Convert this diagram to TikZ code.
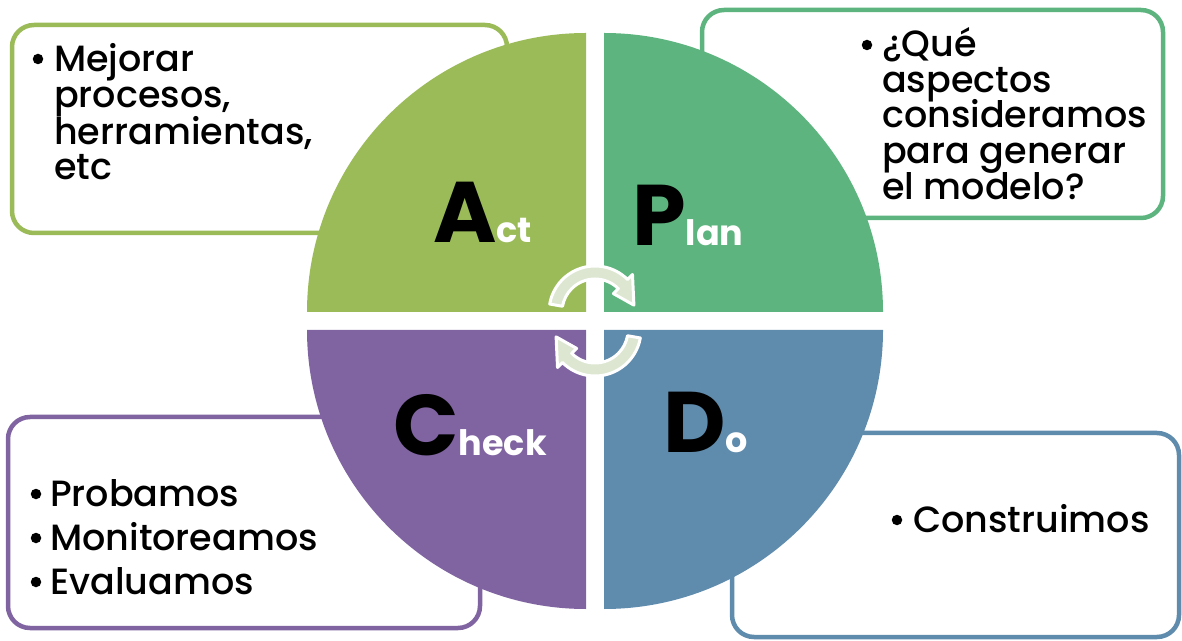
\documentclass[tikz,border=0pt]{standalone}
\usepackage{fontspec}
\setmainfont{Poppins}[UprightFont=* Medium, BoldFont=* Bold]
\definecolor{actc}{HTML}{9BBB59}
\definecolor{planc}{HTML}{5DB47E}
\definecolor{doc}{HTML}{5F8BAC}
\definecolor{checkc}{HTML}{8064A2}
\definecolor{arrowc}{HTML}{DCE6D0}
\tikzset{
  infobox/.style={fill=white, line width=4.5pt, rounded corners=22pt},
  itemtxt/.style={anchor=base west, inner sep=0pt, font=\fontsize{36.5}{36.5}\selectfont},
  bul/.style={circle, fill=black, inner sep=0pt, minimum size=10.5pt},
  bigletter/.style={anchor=base west, inner sep=0pt},
  cyclearrow/.style={fill=arrowc, draw=white, line width=3pt, line join=round},
}
\newcommand{\bigL}[2]{{\fontsize{86}{86}\selectfont\bfseries #1}{\fontsize{35}{35}\selectfont\bfseries\color{white}#2}}
\begin{document}
\begin{tikzpicture}[x=1pt,y=1pt]
\useasboundingbox (0,0) rectangle (1182,640);
% boxes
\draw[infobox, draw=actc] (12,407) rectangle (507,615);
\draw[infobox, draw=planc] (702,422) rectangle (1163,630);
\draw[infobox, draw=checkc] (8,12) rectangle (480,223);
\draw[infobox, draw=doc] (732,3) rectangle (1179,207);
% quadrants
\fill[actc] (586,328) -- ++(-279,0) arc[start angle=180, end angle=90, radius=279] -- cycle;
\fill[planc] (604,328) -- ++(0,279) arc[start angle=90, end angle=0, radius=279] -- cycle;
\fill[doc] (604,310) -- ++(279,0) arc[start angle=0, end angle=-90, radius=279] -- cycle;
\fill[checkc] (586,310) -- ++(0,-279) arc[start angle=270, end angle=180, radius=279] -- cycle;
% cycle arrows
\begin{scope}[shift={(595,328)}]
\path[cyclearrow] (170:46) arc[start angle=170, end angle=45, radius=46] -- (45:53) -- (10:39.5) -- (45:26) -- (45:33) arc[start angle=45, end angle=170, radius=33] -- cycle;
\end{scope}
\begin{scope}[shift={(595,310)}]
\path[cyclearrow] (-10:46) arc[start angle=-10, end angle=-135, radius=46] -- (-135:53) -- (-170:39.5) -- (-135:26) -- (-135:33) arc[start angle=-135, end angle=-10, radius=33] -- cycle;
\end{scope}
% big letters
\node[bigletter] (act) at (433,397) {\bigL{A}{ct}};
\node[bigletter] (plan) at (632,394) {\bigL{P}{lan}};
\node[bigletter] (check) at (393,185) {\bigL{C}{heck}};
\node[bigletter] (do) at (663,187) {\bigL{D}{o}};
% Act text
\node[bul] (ab) at (38,581) {};
\node[itemtxt] (a1) at (54,568) {Mejorar};
\node[itemtxt] (a2) at (54,532) {procesos,};
\node[itemtxt] (a3) at (54,495) {herramientas,};
\node[itemtxt] (a4) at (54,460) {etc};
% Plan text
\node[bul] (pb) at (867,595) {};
\node[itemtxt] (p1) at (882,583) {¿Qué};
\node[itemtxt] (p2) at (882,547) {aspectos};
\node[itemtxt] (p3) at (882,512) {consideramos};
\node[itemtxt] (p4) at (882,476) {para generar};
\node[itemtxt] (p5) at (882,440) {el modelo?};
% Check text
\node[bul] (cb1) at (36,146) {};
\node[itemtxt] (c1) at (50,134) {Probamos};
\node[bul] (cb2) at (36,102) {};
\node[itemtxt] (c2) at (50,90) {Monitoreamos};
\node[bul] (cb3) at (36,58) {};
\node[itemtxt] (c3) at (50,46) {Evaluamos};
% Do text
\node[bul] (db) at (897,120) {};
\node[itemtxt] (d1) at (913,108) {Construimos};
\end{tikzpicture}
\end{document}
